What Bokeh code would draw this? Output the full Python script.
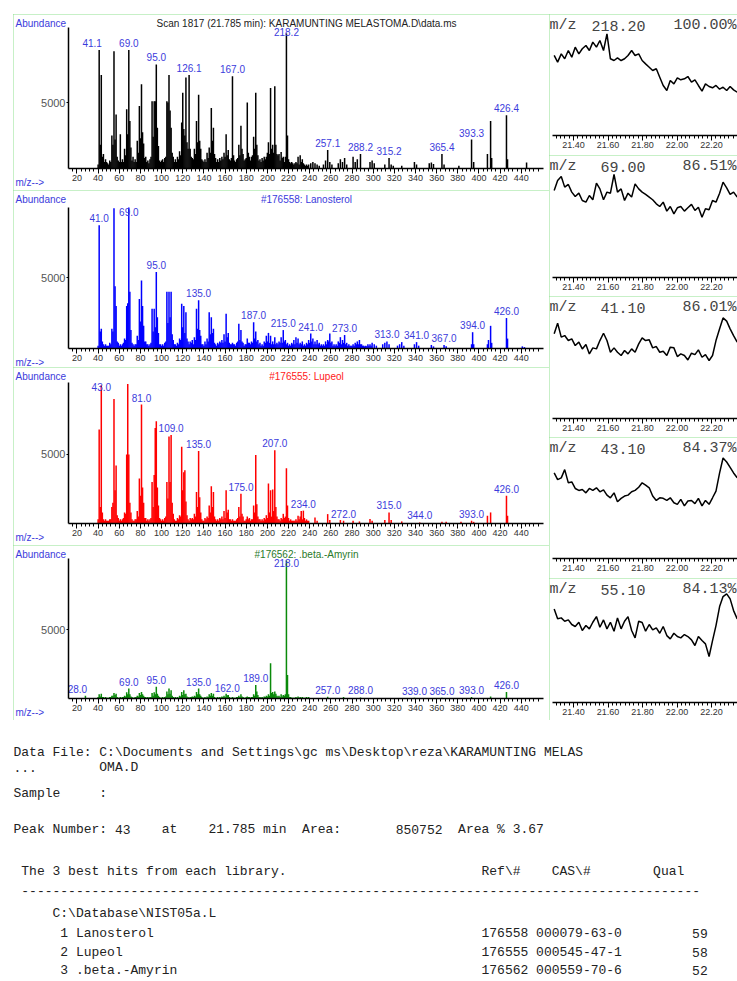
from bokeh.plotting import figure
from bokeh.models import Range1d, FixedTicker, Label, Spacer, NumeralTickFormatter
from bokeh.layouts import column, row
from bokeh.embed import file_html
from bokeh.resources import INLINE
from bokeh.core.properties import value

SANS = "Liberation Sans"
MONO = "Liberation Mono"
LABEL_BLUE = "#3b3bdc"
BORDER_GREEN = "#8ee08e"

# ---------------- spectra data (m/z, abundance) ----------------
SAMPLE_START = 40
sample_dense = [
    300, 9000, 1800, 7100, 900, 1100, 500, 700, 500, 400,
    300, 600, 500, 2500, 1800, 8900, 2200, 4100, 900, 600,
    500, 2600, 500, 700, 500, 1500, 1000, 4500, 2600, 9000,
    3600, 1600, 600, 900, 500, 700, 500, 2100, 1200, 4750,
    2300, 6400, 2750, 1900, 800, 900, 500, 600, 400, 700,
    900, 5100, 2400, 5100, 5100, 7900, 3100, 1700, 600, 500,
    600, 700, 500, 800, 900, 5100, 5000, 7100, 4400, 3100,
    1200, 900, 500, 700, 500, 900, 700, 1300, 1000, 3500,
    5750, 3000, 2500, 6900, 2000, 1500, 7100, 1500, 900, 800,
    700, 1500, 1100, 3600, 2000, 5600, 2100, 1500, 700, 600,
    500, 700, 500, 1200, 800, 1600, 1200, 4600, 2100, 3100,
    1100, 800, 500, 700, 500, 800, 600, 900, 700, 1200,
    900, 2600, 1000, 1400, 700, 600, 800, 7000, 1000, 600,
    500, 700, 800, 1800, 1000, 3250, 1500, 1100, 600, 700,
    800, 5000, 1200, 900, 600, 900, 1000, 2400, 1500, 5750,
    1800, 1000, 600, 700, 500, 800, 600, 900, 700, 900,
    1200, 2000, 1100, 6100, 1500, 1800, 1200, 6250, 1800, 1100,
    1000, 1100, 600, 1250, 800, 900, 500, 900, 10250, 2500,
    700, 500, 400, 500, 400, 300, 400, 500, 400, 900,
    300, 1000, 500, 700, 400, 300, 200, 300, 200, 300,
]
sample_mz_hi = [241, 243, 245, 247, 249, 253, 255, 257, 259, 261, 267, 269, 271, 273, 275,
                281, 283, 285, 288, 297, 299, 301, 311, 315, 317, 319, 327, 339, 341, 353,
                355, 357, 365, 367, 381, 393, 395, 408, 411, 412, 426, 427, 445]
sample_ab_hi = [400, 500, 400, 300, 200, 300, 600, 1400, 500, 300, 400, 700, 500, 800, 300,
                900, 500, 700, 1100, 500, 600, 400, 300, 800, 300, 200, 200, 500, 300, 400,
                450, 350, 1100, 300, 200, 2200, 500, 1100, 3600, 800, 4050, 700, 450]
sample_lab_mz = [41, 69, 95, 126, 167, 218, 257, 288, 315, 365, 393, 426]
sample_lab_txt = ["41.1", "69.0", "95.0", "126.1", "167.0", "218.2", "257.1", "288.2",
                  "315.2", "365.4", "393.3", "426.4"]

LANO_START = 40
lano_dense = [
    200, 8700, 1200, 1400, 500, 300, 200, 300, 200, 200,
    200, 400, 300, 1400, 1200, 9900, 4400, 3000, 500, 400,
    200, 300, 200, 300, 400, 700, 600, 3000, 3200, 9950,
    4000, 1300, 400, 300, 200, 300, 300, 900, 600, 3500,
    1900, 4800, 3000, 1600, 500, 500, 300, 300, 200, 300,
    400, 2800, 1200, 2800, 1500, 5400, 2200, 1100, 300, 300,
    200, 300, 200, 400, 500, 4000, 1800, 4000, 2200, 4000,
    1000, 600, 300, 300, 200, 400, 300, 700, 600, 3150,
    1500, 3000, 1100, 2550, 700, 500, 300, 500, 400, 600,
    300, 800, 600, 2800, 1400, 3400, 1300, 900, 300, 300,
    200, 500, 300, 700, 500, 2550, 1000, 2200, 1100, 1400,
    400, 300, 200, 400, 300, 500, 400, 600, 400, 1000,
    500, 2450, 800, 1100, 400, 300, 300, 400, 300, 300,
    200, 400, 500, 1750, 600, 1300, 500, 400, 200, 300,
    300, 700, 400, 400, 300, 500, 400, 1850, 700, 1200,
    500, 600, 300, 400, 200, 300, 200, 500, 400, 900,
    500, 1100, 400, 900, 300, 500, 300, 800, 300, 400,
    300, 500, 400, 800, 400, 1300, 500, 600, 300, 400,
    200, 300, 200, 400, 300, 600, 300, 800, 400, 700,
    300, 400, 300, 500, 200, 300, 200, 400, 300, 600,
    400, 1050, 500, 700, 300, 500, 300, 600, 300, 400,
    200, 300, 200, 300, 200, 500, 300, 600, 500, 1050,
    400, 500, 200, 300, 200, 300, 200, 500, 400, 800,
    300, 600, 400, 950, 300, 400, 200, 300, 200, 200,
    200, 300, 200, 400, 300, 500, 300, 600, 300, 300,
    200, 200, 150, 200, 150, 300, 200, 300, 200, 400,
]
lano_mz_hi = [301, 303, 309, 311, 313, 315, 323, 325, 327, 329, 339, 341, 343, 355, 357,
              367, 369, 393, 394, 395, 408, 409, 411, 412, 426, 427, 441, 443]
lano_ab_hi = [300, 200, 300, 400, 500, 300, 200, 300, 450, 200, 300, 450, 200, 250, 150,
              250, 150, 300, 1150, 300, 300, 600, 1600, 400, 2150, 700, 150, 100]
lano_lab_mz = [41, 69, 95, 135, 187, 215, 241, 273, 313, 341, 367, 394, 426]
lano_lab_txt = ["41.0", "69.0", "95.0", "135.0", "187.0", "215.0", "241.0", "273.0",
                "313.0", "341.0", "367.0", "394.0", "426.0"]

LUP_START = 40
lup_dense = [
    300, 6800, 1200, 10000, 800, 300, 200, 300, 200, 200,
    200, 300, 300, 1200, 1500, 9000, 2400, 4200, 600, 400,
    200, 300, 200, 300, 400, 800, 700, 5000, 10100, 5000,
    1500, 800, 300, 200, 200, 300, 300, 900, 500, 3250,
    2000, 8600, 2600, 1500, 400, 400, 200, 300, 200, 300,
    400, 3000, 1200, 3500, 6900, 7400, 2600, 1300, 400, 300,
    200, 300, 200, 400, 500, 3000, 1800, 6300, 3000, 6400,
    1500, 700, 300, 200, 200, 400, 300, 600, 500, 5550,
    2400, 3700, 3850, 1600, 600, 300, 200, 400, 300, 400,
    300, 700, 500, 2270, 1200, 5250, 1900, 800, 300, 200,
    200, 400, 300, 500, 400, 1300, 800, 2700, 1200, 2270,
    500, 300, 200, 300, 200, 400, 300, 500, 300, 900,
    400, 2400, 800, 1000, 300, 300, 200, 300, 200, 200,
    200, 300, 400, 1200, 500, 2150, 700, 500, 200, 200,
    300, 500, 300, 400, 200, 300, 300, 1300, 800, 4950,
    1400, 500, 300, 300, 200, 300, 200, 400, 300, 600,
    400, 2900, 800, 2400, 500, 2460, 900, 5300, 1200, 500,
    300, 300, 200, 400, 300, 700, 400, 500, 4000, 1300,
    400, 200, 300, 200, 200, 200, 200, 300, 200, 560,
    300, 500, 900, 300, 930, 400, 200, 300, 200, 200,
]
lup_mz_hi = [245, 247, 257, 259, 269, 272, 281, 287, 297, 299, 311, 315, 317, 327, 344,
             365, 369, 383, 393, 395, 408, 411, 426, 427]
lup_ab_hi = [440, 200, 680, 250, 250, 200, 200, 150, 320, 200, 250, 800, 250, 150, 75,
             120, 120, 120, 200, 120, 560, 800, 2000, 560]
lup_lab_mz = [43, 81, 109, 135, 175, 207, 234, 272, 315, 344, 393, 426]
lup_lab_txt = ["43.0", "81.0", "109.0", "135.0", "175.0", "207.0", "234.0", "272.0",
               "315.0", "344.0", "393.0", "426.0"]

AMY_START = 40
amy_dense = [
    100, 300, 150, 350, 100, 100, 50, 100, 50, 50,
    50, 100, 100, 200, 200, 400, 250, 350, 100, 50,
    50, 100, 50, 100, 100, 200, 150, 450, 300, 720,
    300, 150, 100, 50, 50, 100, 100, 200, 150, 400,
    250, 480, 300, 200, 100, 100, 50, 100, 50, 100,
    100, 400, 200, 450, 300, 850, 350, 200, 100, 50,
    50, 100, 50, 100, 150, 500, 300, 720, 350, 600,
    200, 100, 50, 100, 50, 100, 50, 200, 150, 480,
    250, 600, 300, 350, 150, 100, 50, 100, 100, 150,
    100, 200, 150, 480, 300, 720, 300, 200, 100, 50,
    50, 100, 50, 150, 100, 300, 200, 400, 200, 350,
    100, 50, 50, 100, 50, 100, 50, 150, 100, 200,
    100, 350, 240, 250, 100, 50, 50, 100, 50, 50,
    50, 100, 100, 200, 100, 300, 150, 100, 50, 50,
    100, 150, 100, 100, 50, 100, 100, 300, 200, 970,
    500, 250, 100, 100, 50, 100, 50, 150, 100, 200,
    150, 300, 200, 2550, 400, 480, 300, 500, 350, 200,
    150, 200, 100, 300, 150, 250, 200, 300, 10000, 1700,
    300, 100, 100, 50, 50, 50, 50, 100, 50, 150,
    50, 100, 50, 100, 50, 50, 50, 100, 50, 100,
]
amy_mz_hi = [28, 257, 272, 288, 339, 365, 393, 411, 426]
amy_ab_hi = [200, 120, 100, 80, 60, 60, 100, 150, 480]
amy_lab_mz = [28, 69, 95, 135, 162, 189, 218, 257, 288, 339, 365, 393, 426]
amy_lab_txt = ["28.0", "69.0", "95.0", "135.0", "162.0", "189.0", "218.0", "257.0",
               "288.0", "339.0", "365.0", "393.0", "426.0"]

MZ_TICKS = [20, 40, 60, 80, 100, 120, 140, 160, 180, 200, 220, 240, 260, 280, 300,
            320, 340, 360, 380, 400, 420, 440]
MZ_MIN, MZ_MAX = 12, 461

# ---------------- extracted ion chromatograms ----------------
eic_time = [21.288, 21.308, 21.329, 21.349, 21.370, 21.390, 21.410, 21.431, 21.451, 21.472,
            21.492, 21.512, 21.533, 21.553, 21.574, 21.594, 21.614, 21.635, 21.655, 21.676,
            21.696, 21.716, 21.737, 21.757, 21.778, 21.798, 21.818, 21.839, 21.859, 21.880,
            21.900, 21.920, 21.941, 21.961, 21.982, 22.002, 22.022, 22.043, 22.063, 22.084,
            22.104, 22.124, 22.145, 22.165, 22.186, 22.206, 22.226, 22.247, 22.267, 22.288,
            22.308, 22.328, 22.349]
eic_218 = [69.6, 63.8, 71.0, 66.7, 73.9, 68.1, 76.8, 71.0, 75.4, 78.3,
           73.9, 81.2, 76.8, 82.6, 73.9, 88.4, 66.7, 65.2, 67.5, 65.2,
           66.7, 69.6, 73.9, 69.6, 71.0, 65.2, 62.3, 59.4, 56.5, 58.0,
           50.7, 43.5, 39.1, 47.8, 44.9, 50.2, 48.4, 49.3, 51.3, 46.4,
           48.4, 43.5, 38.6, 44.9, 42.6, 41.5, 43.5, 40.3, 42.0, 39.1,
           42.6, 39.7, 37.7]
eic_69 = [75.0, 83.6, 87.1, 77.9, 80.2, 73.6, 69.8, 72.7, 66.4, 65.0,
          70.7, 67.0, 81.3, 76.4, 67.0, 73.6, 72.7, 88.8, 73.6, 76.4,
          66.4, 72.7, 69.3, 80.7, 76.4, 73.6, 71.6, 69.3, 67.0, 63.5,
          61.2, 65.0, 57.2, 61.2, 54.9, 60.1, 61.2, 57.2, 60.1, 63.0,
          57.8, 60.6, 52.0, 59.2, 58.4, 66.4, 65.0, 72.7, 82.2, 77.3,
          71.6, 73.6, 69.3]
eic_41 = [73.0, 82.2, 70.1, 71.5, 67.2, 68.6, 62.9, 65.8, 60.0, 63.7,
          55.7, 60.9, 60.0, 67.2, 73.5, 67.2, 57.1, 60.9, 57.1, 54.3,
          58.6, 55.7, 60.0, 57.1, 64.3, 69.5, 67.2, 67.8, 60.9, 62.0,
          57.1, 58.0, 54.3, 61.5, 60.9, 53.4, 55.7, 54.3, 50.5, 56.3,
          55.1, 59.2, 52.8, 55.1, 50.0, 54.3, 67.2, 77.3, 86.7, 83.9,
          77.3, 71.5, 65.8]
eic_43 = [74.4, 68.6, 70.1, 77.3, 65.8, 66.6, 60.9, 59.2, 60.0, 57.1,
          60.9, 59.2, 61.5, 58.0, 59.7, 55.1, 52.8, 57.1, 49.4, 52.3,
          54.3, 55.1, 58.0, 59.2, 62.0, 65.8, 63.8, 61.5, 54.3, 50.5,
          52.8, 52.3, 50.5, 52.8, 48.5, 47.1, 51.4, 45.7, 50.0, 50.5,
          47.7, 52.3, 45.7, 50.5, 47.1, 52.8, 58.6, 74.4, 87.4, 83.9,
          79.3, 74.4, 70.1]
eic_55 = [79.3, 70.9, 71.7, 68.9, 70.0, 66.1, 64.4, 68.0, 61.0, 65.2,
          62.4, 68.0, 72.8, 63.8, 70.0, 62.4, 68.0, 60.4, 71.7, 62.4,
          68.9, 72.8, 61.0, 54.8, 68.9, 67.8, 60.4, 66.1, 61.5, 63.2,
          58.7, 64.4, 56.7, 53.9, 58.7, 55.9, 54.8, 57.6, 55.9, 53.1,
          48.3, 55.9, 52.5, 49.7, 39.0, 52.5, 65.2, 81.3, 89.8, 92.1,
          87.8, 77.9, 70.9]
eic_mz_txt = ["218.20", "69.00", "41.10", "43.10", "55.10"]
eic_pct_txt = ["100.00%", "86.51%", "86.01%", "84.37%", "84.13%"]
TIME_TICKS = [21.40, 21.60, 21.80, 22.00, 22.20]
PX_PER_MIN = 172.5
T_LEFT = 21.40 - 21 / PX_PER_MIN

# ---------------- report text (token, column, line) ----------------
hits_names = ["1 Lanosterol", "2 Lupeol", "3 .beta.-Amyrin"]
hits_ref = ["176558", "176555", "176562"]
hits_cas = ["000079-63-0", "000545-47-1", "000559-70-6"]
hits_qual = ["59", "58", "52"]

report_tokens = [
    "Data File:", "C:\\Documents and Settings\\gc ms\\Desktop\\reza\\KARAMUNTING MELAS",
    "...", "OMA.D",
    "Sample", ":",
    "Peak Number:", "43", "at", "21.785 min", "Area:", "850752", "Area % 3.67",
    "The 3 best hits from each library.", "Ref\\#", "CAS\\#", "Qual",
    "-" * 87,
    "C:\\Database\\NIST05a.L",
]
report_col = [0, 11, 0, 11, 0, 11, 0, 13, 19, 25, 37, 49, 57, 1, 60, 69, 82, 1, 5]
report_line = [0, 0, 1, 1, 2, 2, 3, 3, 3, 3, 3, 3, 3, 4, 4, 4, 4, 5, 6]
for i in range(3):
    report_tokens += [hits_names[i], hits_ref[i] + " " + hits_cas[i], hits_qual[i]]
    report_col += [6, 60, 87]
    report_line += [7 + i, 7 + i, 7 + i]
LINE_Y = [32, 47, 73, 109, 151, 170, 193, 213, 232, 250]
CHAR_W = 7.8   # 13px Liberation Mono advance
TEXT_X0 = 13


def panel_outline(p):
    p.styles = {"outline": "1px solid " + BORDER_GREEN, "outline-offset": "-1px"}


def canvas_label(p, x, y, text, size, color, font=SANS, align="left"):
    p.add_layout(Label(x=x, y=y, x_units="canvas", y_units="canvas", text=text,
                       text_font=font, text_font_size=size, text_color=color,
                       text_align=align, text_baseline="middle"))


def style_axis(ax):
    ax.axis_line_width = 1.5
    ax.major_tick_out = 5
    ax.major_tick_in = 0
    ax.minor_tick_out = 3
    ax.minor_tick_in = 0
    ax.major_label_standoff = 1
    ax.major_label_text_font = SANS
    ax.major_label_text_font_size = "9px"
    ax.major_label_text_color = "#333333"


def spectrum(start, dense, mz_hi, ab_hi, lab_mz, lab_txt, color, ymax, height, top,
             frame_h, title, title_color, lab_dx):
    W, left, right = 536, 55, 6
    bottom = height - top - frame_h
    kx = (MZ_MAX - MZ_MIN) / (W - left - right)
    ky = ymax / frame_h
    p = figure(width=W, height=height,
               x_range=Range1d(MZ_MIN - left * kx, MZ_MAX + right * kx),
               y_range=Range1d(-bottom * ky, ymax + top * ky),
               output_backend="svg", toolbar_location=None, min_border=0)
    p.xgrid.visible = False
    p.ygrid.visible = False
    p.outline_line_color = None
    panel_outline(p)

    xs = list(range(start, start + len(dense))) + list(mz_hi)
    ys = list(dense) + list(ab_hi)
    p.segment(x0=xs, y0=[0] * len(xs), x1=xs, y1=ys, line_color=color, line_width=1.5)

    lookup = dict(zip(xs, ys))
    lab_y = [min(lookup.get(m, 0), 0.92 * ymax) for m in lab_mz]
    p.text(x=lab_mz, y=lab_y, text=lab_txt, x_offset=lab_dx, y_offset=-3,
           text_font=value(SANS), text_font_size="10px", text_color=LABEL_BLUE,
           text_align="center", text_baseline="bottom")

    xa = p.xaxis[0]
    xa.fixed_location = 0
    xa.bounds = (MZ_MIN, MZ_MAX)
    xa.ticker = FixedTicker(ticks=MZ_TICKS, minor_ticks=list(range(16, 457, 4)))
    style_axis(xa)

    ya = p.yaxis[0]
    ya.fixed_location = MZ_MIN
    ya.bounds = (0, ymax)
    ya.ticker = FixedTicker(ticks=[5000], minor_ticks=[])
    style_axis(ya)
    ya.major_tick_out = 2
    ya.major_label_text_font_size = "11px"
    ya.major_label_text_color = "#555555"

    canvas_label(p, 2, 9, "Abundance", "10px", LABEL_BLUE)
    canvas_label(p, 293, 9, title, "10px", title_color, align="center")
    canvas_label(p, 2, top + frame_h + 14, "m/z-->", "10px", LABEL_BLUE)
    return p


def chrom(vals, mz_txt, pct_txt, height, bottom):
    W, left, top = 188, 3, 6
    frame_h = height - top - bottom
    ky = 100 / frame_h
    p = figure(width=W, height=height,
               x_range=Range1d(T_LEFT - left / PX_PER_MIN, T_LEFT + (W - left) / PX_PER_MIN),
               y_range=Range1d(-bottom * ky, 100 + top * ky),
               output_backend="svg", toolbar_location=None, min_border=0)
    p.xgrid.visible = False
    p.ygrid.visible = False
    p.outline_line_color = None
    p.yaxis.visible = False
    panel_outline(p)
    p.line(eic_time, vals, line_color="black", line_width=1.5)
    xa = p.xaxis[0]
    xa.fixed_location = 0
    xa.bounds = (T_LEFT, T_LEFT + (W - left) / PX_PER_MIN)
    xa.ticker = FixedTicker(ticks=TIME_TICKS,
                            minor_ticks=[21.30 + 0.025 * i for i in range(42)])
    xa.formatter = NumeralTickFormatter(format="0.00")
    style_axis(xa)
    canvas_label(p, 0, 11, "m/z", "15px", "#444444", font=MONO)
    canvas_label(p, 96, 11, mz_txt, "15px", "#444444", font=MONO, align="right")
    canvas_label(p, 187, 11, pct_txt, "15px", "#444444", font=MONO, align="right")
    return p


s1 = spectrum(SAMPLE_START, sample_dense, sample_mz_hi, sample_ab_hi, sample_lab_mz,
              sample_lab_txt, "black", 10700, 176, 13, 141,
              "Scan 1817 (21.785 min): KARAMUNTING MELASTOMA.D\\data.ms", "#222222",
              [-7] + [0] * 11)
s2 = spectrum(LANO_START, lano_dense, lano_mz_hi, lano_ab_hi, lano_lab_mz, lano_lab_txt,
              "#0000ff", 9950, 177, 17, 141, "#176558: Lanosterol", LABEL_BLUE, [0] * 13)
s3 = spectrum(LUP_START, lup_dense, lup_mz_hi, lup_ab_hi, lup_lab_mz, lup_lab_txt,
              "#ff0000", 10200, 178, 15, 141, "#176555: Lupeol", "#ff2020", [0] * 12)
s4 = spectrum(AMY_START, amy_dense, amy_mz_hi, amy_ab_hi, amy_lab_mz, amy_lab_txt,
              "#0a8a0a", 10150, 175, 13, 140, "#176562: .beta.-Amyrin", "#2a7a2a",
              [-8] + [0] * 12)

eics = [eic_218, eic_69, eic_41, eic_43, eic_55]
heights = [141, 141, 141, 141, 142]
bottoms = [20, 19, 19, 20, 18]
chroms = [chrom(eics[i], eic_mz_txt[i], eic_pct_txt[i], heights[i], bottoms[i])
          for i in range(5)]

tf = figure(width=737, height=259, x_range=Range1d(0, 737), y_range=Range1d(259, 0),
            output_backend="svg", toolbar_location=None, min_border=0)
tf.axis.visible = False
tf.xgrid.visible = False
tf.ygrid.visible = False
tf.outline_line_color = None
tf.text(x=[TEXT_X0 + CHAR_W * c for c in report_col],
        y=[LINE_Y[l] for l in report_line],
        text=report_tokens, text_font=value(MONO),
        text_font_size="13px", text_color="#222222", text_baseline="middle",
        text_align="left")

layout = column(
    Spacer(width=737, height=14),
    row(Spacer(width=13, height=706), column(s1, s2, s3, s4), column(*chroms)),
    tf,
)

open("out.html", "w").write(file_html(layout, INLINE, title="GC-MS report"))
